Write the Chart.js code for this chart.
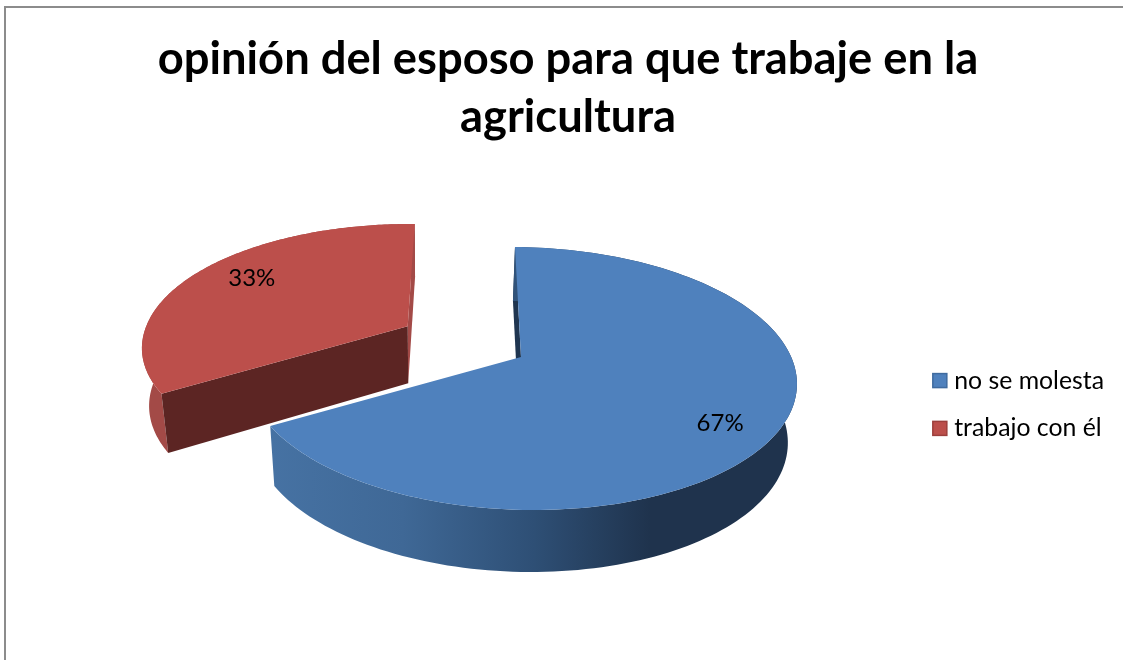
<!DOCTYPE html>
<html><head><meta charset="utf-8">
<style>
html,body{margin:0;padding:0;background:#fff;overflow:hidden}
#wrap{position:relative;width:1123px;height:660px}
#frame{position:absolute;left:4px;top:6px;right:-4px;bottom:-4px;border-left:2px solid #8c8c8c;border-top:2px solid #8c8c8c}
canvas{position:absolute;left:0;top:0}
</style></head><body>
<div id="wrap"><div id="frame"></div><canvas id="c" width="1123" height="660"></canvas></div>
<script src="https://cdn.jsdelivr.net/npm/chart.js@4/dist/chart.umd.min.js"></script>
<script>
const titleLines = ['opinión del esposo para que trabaje en la', 'agricultura'];
const categories = ['no se molesta', 'trabajo con él'];
const shares = [67, 33];
const sliceColors = ['#4f81bd', '#bc4f4b'];
const sliceBorders = ['#3f6b9f', '#9c3f3c'];
const explode = [0, 0.48];

// perspective view of the tilted disc
const view = { a: 271, b: 78.2, c: 521, d: 2, e: -69.6, f: 357, h: 0.1635 };
const D2R = Math.PI / 180;
function top3d(u, w) {
  const q = 1 + view.h * w;
  return { x: (view.a * u + view.b * w + view.c) / q, y: (view.d * u + view.e * w + view.f) / q };
}
function bot3d(u, w) {
  const p = top3d(u, w);
  return { x: p.x - 0.025 * (p.x - 433), y: p.y + 58 - 4 * w };
}
// the seam between the slices appears at a slightly different angle in this view
const seamView = [239.5, 237.5];
const sliceShiftX = [0, -4];
const sliceTilt = [0, -2];
let seam = 0;
function warp(t, i) {
  const sv = seamView[i] * D2R, full = 2 * Math.PI;
  return t <= seam ? t * sv / seam : sv + (t - seam) * (full - sv) / (full - seam);
}
const midTheta = [];
function slicePoint(fn, i, viewTheta, r) {
  const mid = midTheta[i];
  const lu = r * Math.sin(viewTheta), lw = r * Math.cos(viewTheta);
  const p = fn(lu + explode[i] * Math.sin(mid), lw + explode[i] * Math.cos(mid));
  return { x: p.x + sliceShiftX[i] + sliceTilt[i] * Math.max(0, lw), y: p.y };
}
const labelAt = [{ dTheta: 0.092, r: 0.814 }, { dTheta: 0.074, r: 0.777 }];

function arcPath(ctx, fn, i, a, b, first) {
  const n = 160;
  for (let k = 0; k <= n; k++) {
    const t = warp(a + (b - a) * k / n, i);
    const p = slicePoint(fn, i, t, 1);
    if (k === 0 && first) ctx.moveTo(p.x, p.y); else ctx.lineTo(p.x, p.y);
  }
}
function radialWall(ctx, i, t0, color) {
  const t = warp(t0, i);
  const a = slicePoint(top3d, i, t, 0), b = slicePoint(top3d, i, t, 1);
  const c = slicePoint(bot3d, i, t, 1), d = slicePoint(bot3d, i, t, 0);
  ctx.beginPath();
  ctx.moveTo(a.x, a.y); ctx.lineTo(b.x, b.y); ctx.lineTo(c.x, c.y); ctx.lineTo(d.x, d.y);
  ctx.closePath(); ctx.fillStyle = color; ctx.fill();
}
function outerWall(ctx, i, a, b, fill) {
  ctx.beginPath();
  arcPath(ctx, top3d, i, a, b, true);
  arcPath(ctx, bot3d, i, b, a, false);
  ctx.closePath(); ctx.fillStyle = fill; ctx.fill();
}
function topFace(ctx, i, a, b, color) {
  const c = slicePoint(top3d, i, 0, 0);
  ctx.beginPath();
  ctx.moveTo(c.x, c.y);
  arcPath(ctx, top3d, i, a, b, false);
  ctx.closePath(); ctx.fillStyle = color; ctx.fill();
}

const pie3d = {
  id: 'pie3d',
  beforeDatasetsDraw(chart) {
    const ctx = chart.ctx, arcs = chart.getDatasetMeta(0).data;
    const th = arcs.map(a => [a.startAngle + Math.PI / 2, a.endAngle + Math.PI / 2]);
    th.forEach((t, i) => midTheta[i] = (t[0] + t[1]) / 2);
    seam = th[0][1];
    ctx.save();
    // red slice sits behind
    outerWall(ctx, 1, th[1][0], th[1][1], '#a34a47');
    radialWall(ctx, 1, th[1][1], '#a34a47');
    radialWall(ctx, 1, th[1][0], '#5c2523');
    topFace(ctx, 1, th[1][0], th[1][1], sliceColors[1]);
    // blue slice
    const g = ctx.createLinearGradient(272, 0, 797, 0);
    g.addColorStop(0, '#4672a3');
    g.addColorStop(0.25, '#3f6896');
    g.addColorStop(0.5, '#2e4f75');
    g.addColorStop(0.72, '#1f334d');
    g.addColorStop(1, '#1f334d');
    radialWall(ctx, 0, th[0][0], '#1f3550');
    outerWall(ctx, 0, th[0][0], th[0][1], g);
    topFace(ctx, 0, th[0][0], th[0][1], sliceColors[0]);
    // percentage labels
    const total = shares.reduce((s, v) => s + v, 0);
    ctx.fillStyle = '#000';
    ctx.font = '24px Lato';
    ctx.textAlign = 'center';
    ctx.textBaseline = 'middle';
    shares.forEach((v, i) => {
      const p = slicePoint(top3d, i, warp(midTheta[i], i) + labelAt[i].dTheta, labelAt[i].r);
      ctx.fillText(Math.round(v / total * 100) + '%', p.x, p.y);
    });
    ctx.restore();
    return false;
  },
  afterDraw(chart) {
    const ctx = chart.ctx;
    ctx.save();
    chart.legend.legendHitBoxes.forEach((h, i) => {
      const y = h.top + h.height / 2 - 7;
      const x = h.left - 3;
      ctx.fillStyle = sliceColors[i];
      ctx.strokeStyle = sliceBorders[i];
      ctx.lineWidth = 1.5;
      ctx.fillRect(x, y, 14, 14);
      ctx.strokeRect(x, y, 14, 14);
    });
    ctx.restore();
  }
};

new Chart(document.getElementById('c'), {
  type: 'pie',
  data: { labels: categories, datasets: [{ data: shares, backgroundColor: sliceColors, borderWidth: 0 }] },
  plugins: [pie3d],
  options: {
    responsive: false,
    animation: false,
    layout: { padding: { left: 22, right: 9, top: 30, bottom: 0 } },
    plugins: {
      tooltip: { enabled: false },
      title: {
        display: true,
        text: titleLines,
        color: '#000',
        font: { family: 'Lato', weight: 'bold', size: 45.3, lineHeight: 1.28 },
        padding: { top: 0, bottom: 3 }
      },
      legend: {
        position: 'right',
        fullSize: false,
        labels: {
          color: '#000',
          font: { family: 'Lato', size: 24.8 },
          boxWidth: 6,
          boxHeight: 14,
          padding: 23,
          generateLabels: (chart) => categories.map((t, i) => ({
            text: t, fillStyle: 'rgba(0,0,0,0)', strokeStyle: 'rgba(0,0,0,0)', lineWidth: 0, index: i
          }))
        }
      }
    }
  }
});
</script>
</body></html>
